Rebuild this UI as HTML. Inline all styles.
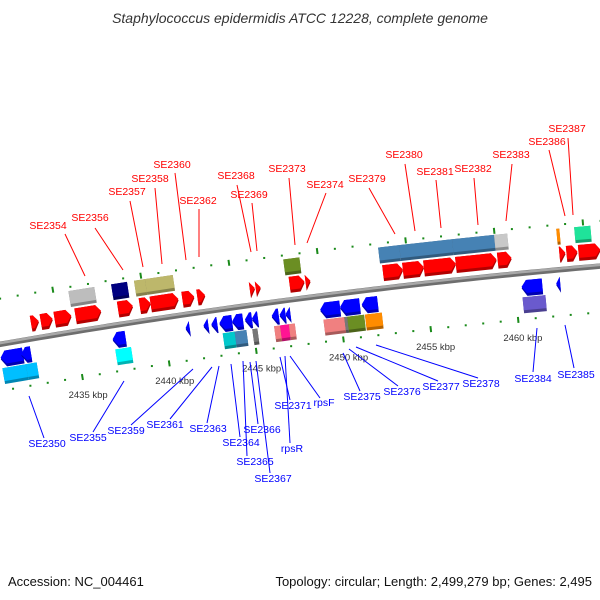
<!DOCTYPE html>
<html><head><meta charset="utf-8"><style>
html,body{margin:0;padding:0;background:#fff}
svg{display:block}
text{font-family:"Liberation Sans","DejaVu Sans",sans-serif}
</style></head><body>
<svg id="chart" width="600" height="600" viewBox="0 0 600 600" xmlns="http://www.w3.org/2000/svg">
<text x="300" y="23" text-anchor="middle" font-size="14" font-style="italic" fill="#333">Staphylococcus epidermidis ATCC 12228, complete genome</text>
<text x="8" y="586" font-size="13" fill="#111">Accession: NC_004461</text>
<text x="592" y="586" text-anchor="end" font-size="13" fill="#111">Topology: circular; Length: 2,499,279 bp; Genes: 2,495</text>
<g id="ticks"></g><g id="backbone"></g><g id="genes"></g><g id="labels"></g>
</svg>
<script>
// forward CDS [start kbp, end kbp]
const fwdCds = [[2432.63,2433.08],[2433.19,2433.87],[2433.98,2434.94],[2435.17,2436.64],[2437.6,2438.45],[2438.84,2439.46],[2439.46,2441.05],[2441.27,2441.95],[2442.12,2442.57],[2445.11,2445.4],[2445.45,2445.73],[2447.37,2448.22],[2448.28,2448.56],[2452.68,2453.81],[2453.81,2455.0],[2455.0,2456.81],[2456.81,2459.12],[2459.18,2459.97],[2462.68,2463.02],[2463.08,2463.7],[2463.76,2465.0]];
// forward COG boxes [start, end, colour]
const fwdCog = [[2435.0,2436.47,"#bdbdbd"],[2437.43,2438.33,"#000080"],[2438.73,2439.35,"#bdb76b"],[2439.35,2440.93,"#bdb76b"],[2447.2,2448.11,"#6b8e23"],[2452.57,2453.76,"#4682b4"],[2453.76,2456.75,"#4682b4"],[2456.75,2459.12,"#4682b4"],[2459.12,2459.86,"#c8c8c8"],[2462.63,2462.8,"#ff8c00"],[2463.64,2464.55,"#1fe39a"]];
// reverse CDS
const revCds = [[2430.6,2431.89],[2431.78,2432.34],[2437.03,2437.77],[2441.21,2441.44],[2442.23,2442.51],[2442.68,2443.02],[2443.14,2443.87],[2443.87,2444.49],[2444.6,2445.0],[2445.0,2445.34],[2446.13,2446.53],[2446.58,2446.92],[2446.92,2447.2],[2448.9,2450.03],[2450.03,2451.16],[2451.27,2452.18],[2460.37,2461.55],[2462.34,2462.57]];
// reverse COG
const revCog = [[2430.6,2431.95,"#00bfff"],[2431.95,2432.57,"#00bfff"],[2437.09,2437.99,"#00ffff"],[2443.25,2443.93,"#00c8cc"],[2443.93,2444.6,"#4682b4"],[2444.94,2445.23,"#777"],[2446.19,2446.53,"#f08080"],[2446.53,2447.03,"#ff1493"],[2447.03,2447.37,"#f08080"],[2449.01,2450.2,"#f08080"],[2450.2,2450.37,"#777"],[2450.37,2451.33,"#6b8e23"],[2451.38,2452.34,"#ff8c00"],[2460.37,2461.67,"#6a5acd"]];
const kbpTicks = [2435,2440,2445,2450,2455,2460];
// labels: text, x, y, line x1,y1,x2,y2
const fwdLabels = [["SE2354",48,229,65,234,85,276],["SE2356",90,221,95,228,123,270],["SE2357",127,195,130,201,143,267],["SE2358",150,182,155,188,162,264],["SE2360",172,168,175,173,186,260],["SE2362",198,204,199,209,199,257],["SE2368",236,179,237,185,251,252],["SE2369",249,198,252,203,257,251],["SE2373",287,172,289,178,295,245],["SE2374",325,188,326,193,307,243],["SE2379",367,182,369,188,395,234],["SE2380",404,158,405,164,415,231],["SE2381",435,175,436,180,441,228],["SE2382",473,172,474,178,478,225],["SE2383",511,158,512,164,506,221],["SE2386",547,145,549,150,565,216],["SE2387",567,132,568,138,573,215]];
const revLabels = [["SE2350",47,447,44,438,29,396],["SE2355",88,441,93,432,124,381],["SE2359",126,434,131,425,193,369],["SE2361",165,428,170,419,212,367],["SE2363",208,432,207,423,219,366],["SE2364",241,446,240,437,231,364],["SE2365",255,465,247,456,243,361],["SE2366",262,433,258,424,250,362],["SE2367",273,482,270,473,256,361],["SE2371",293,409,290,400,280,357],["rpsR",292,452,290,443,285,356],["rpsF",324,406,320,398,290,356],["SE2375",362,400,360,391,343,353],["SE2376",402,395,398,386,349,349],["SE2377",441,390,438,381,356,347],["SE2378",481,387,478,378,376,345],["SE2384",533,382,533,372,537,328],["SE2385",576,378,574,368,565,325]];

const NS="http://www.w3.org/2000/svg";
const CX=1204, CY=7240, R=7000, PX=17.7;
const A0=Math.asin((75-CX)/R);
function pt(k,d){const a=A0+(k-2435)*PX/R;return [CX+(R+d)*Math.sin(a),CY-(R+d)*Math.cos(a)];}
function mk(tag,attrs,parent){const e=document.createElementNS(NS,tag);for(const k in attrs)e.setAttribute(k,attrs[k]);parent.appendChild(e);return e;}
function poly(points){return points.map(p=>p[0].toFixed(2)+","+p[1].toFixed(2)).join(" ");}
function shade(c,f){const n=parseInt(c.length===4?c.replace(/#(.)(.)(.)/,"#$1$1$2$2$3$3").slice(1):c.slice(1),16);const r=Math.round(((n>>16)&255)*f),g=Math.round(((n>>8)&255)*f),b=Math.round((n&255)*f);return "rgb("+r+","+g+","+b+")";}
function arrowPts(s,e,d0,d1,dir){const h=Math.min(5/PX,(e-s));const m=(d0+d1)/2;
 if(dir>0)return [pt(s,d0),pt(e-h,d0),pt(e,m),pt(e-h,d1),pt(s,d1)];
 return [pt(e,d0),pt(s+h,d0),pt(s,m),pt(s+h,d1),pt(e,d1)];}
function boxPts(s,e,d0,d1){return [pt(s,d0),pt(e,d0),pt(e,d1),pt(s,d1)];}

const tg=document.getElementById("ticks");
function ring(d,off,name){
 for(let k=2430+off;k<=2466;k+=1){
  const major=Math.round(k-off)%5===0;
  if(major){const p1=pt(k,d-3),p2=pt(k,d+3);
   const l=mk("line",{x1:p1[0],y1:p1[1],x2:p2[0],y2:p2[1],stroke:"#1a8a1a","stroke-width":2},tg);
   
   
  }else{const p=pt(k,d);
   const r=mk("rect",{x:p[0]-1,y:p[1]-1,width:2,height:2,fill:"#1a8a1a"},tg);
   
   }
 }
}
ring(45,-0.85,"outer-ring");
ring(-46,0,"inner-ring");
kbpTicks.forEach(k=>{const p=pt(k,-63);
 const t=mk("text",{x:p[0]+3,y:p[1]+4,"text-anchor":"middle","font-size":"9.5",fill:"#333"},tg);
 t.textContent=k+" kbp";
 
 });

const bb=document.getElementById("backbone");
{const pts=[];for(let k=2430;k<=2466;k+=0.5)pts.push(pt(k,0));
 const a=mk("polyline",{points:poly(pts),fill:"none",stroke:"#6e6e6e","stroke-width":5.5},bb);
 
 
 const pts2=[];for(let k=2430;k<=2466;k+=0.5)pts2.push(pt(k,1.2));
 const b=mk("polyline",{points:poly(pts2),fill:"none",stroke:"#a8a8a8","stroke-width":2.5},bb);
 
 }

const gg=document.getElementById("genes");
function drawShape(fn,color,d0,d1,name){
 const dk=mk("polygon",{points:poly(fn(d0,d1)),fill:shade(color,0.7)},gg);
 
 
 const m=mk("polygon",{points:poly(fn(d0+3,d1)),fill:color},gg);
 
 }
fwdCds.forEach(g=>drawShape((a,b)=>arrowPts(g[0],g[1],a,b,1),"#ff0000",7,23,"forward-cds"));
fwdCog.forEach(g=>drawShape((a,b)=>boxPts(g[0],g[1],a,b),g[2],25,41,"forward-cog-box"));
revCds.forEach(g=>drawShape((a,b)=>arrowPts(g[0],g[1],a,b,-1),"#0000ff",-23,-7,"reverse-cds"));
revCog.forEach(g=>drawShape((a,b)=>boxPts(g[0],g[1],a,b),g[2],-40,-24,"reverse-cog-box"));

const lg=document.getElementById("labels");
function drawLabels(arr,color,name){arr.forEach(L=>{
 const l=mk("line",{x1:L[3],y1:L[4],x2:L[5],y2:L[6],stroke:color,"stroke-width":1},lg);
 
 
 const t=mk("text",{x:L[1],y:L[2],"text-anchor":"middle","font-size":"10.5",fill:color},lg);
 t.textContent=L[0];
 
 });}
drawLabels(fwdLabels,"#ff0000","forward-gene-label");
drawLabels(revLabels,"#0000ff","reverse-gene-label");
</script>
</body></html>
